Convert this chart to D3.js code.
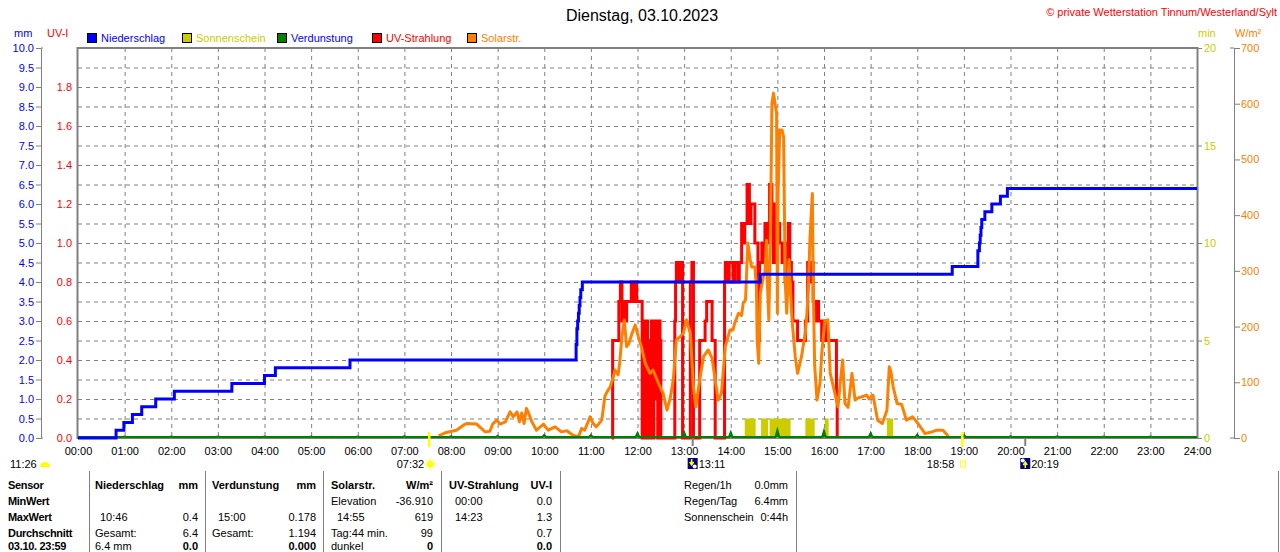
<!DOCTYPE html>
<html>
<head>
<meta charset="utf-8">
<script src="https://cdn.jsdelivr.net/npm/d3@7"></script>
<style>
  body { margin: 0; background: #fff; }
  svg { display: block; font-family: "Liberation Sans", Arial, sans-serif; font-size: 11px; }
</style>
</head>
<body>
<svg width="1280" height="552"></svg>
<script>
// ---- data ----
const hourTicks = d3.range(0, 25);
const mmTicks = d3.range(0, 10.01, 0.5);
const uvTicks = [0, 0.2, 0.4, 0.6, 0.8, 1.0, 1.2, 1.4, 1.6, 1.8];
const sunTicks = [0, 5, 10, 15, 20];
const solarTicks = [0, 100, 200, 300, 400, 500, 600, 700];

// cumulative rain (mm), step after
const rainSteps = [
  ["00:00", 0], ["00:49", 0.2], ["00:59", 0.4], ["01:10", 0.6], ["01:22", 0.8], ["01:40", 1.0],
  ["02:04", 1.2], ["03:18", 1.4], ["04:00", 1.6], ["04:14", 1.8], ["05:50", 2.0],
  ["10:41", 2.4], ["10:42", 2.8], ["10:43", 3.0], ["10:44", 3.2], ["10:45", 3.4], ["10:46", 3.6],
  ["10:47", 3.8], ["10:49", 4.0], ["14:38", 4.2], ["18:45", 4.4], ["19:18", 4.8], ["19:20", 5.0],
  ["19:21", 5.2], ["19:22", 5.4], ["19:23", 5.6], ["19:27", 5.8], ["19:36", 6.0], ["19:47", 6.2],
  ["19:56", 6.4], ["24:00", 6.4]
];

// UV index, step after
const uvReadings = [
  ["11:27", 0], ["11:28", 0.5], ["11:36", 0.7], ["11:38", 0.8], ["11:40", 0.6], ["11:42", 0.7],
  ["11:44", 0.6], ["11:46", 0.7], ["11:52", 0.8], ["11:54", 0.7], ["11:56", 0.8], ["11:59", 0.7],
  ["12:06", 0], ["12:07", 0.4], ["12:08", 0], ["12:09", 0.6], ["12:11", 0], ["12:12", 0.6],
  ["12:13", 0.4], ["12:14", 0], ["12:15", 0.5], ["12:16", 0], ["12:17", 0.4], ["12:18", 0.6],
  ["12:20", 0], ["12:21", 0.6], ["12:23", 0.2], ["12:24", 0.6], ["12:26", 0], ["12:27", 0.6],
  ["12:29", 0.5], ["12:30", 0], ["12:48", 0.6], ["12:49", 0.8], ["12:50", 0.9], ["12:53", 0.8],
  ["12:55", 0.9], ["12:58", 0], ["13:08", 0.8], ["13:10", 0.9], ["13:12", 0], ["13:20", 0.5],
  ["13:27", 0.6], ["13:29", 0.7], ["13:36", 0.5], ["13:40", 0], ["13:52", 0.8], ["13:53", 0.9],
  ["13:56", 0.8], ["13:58", 0.9], ["14:03", 0.8], ["14:05", 0.9], ["14:09", 0.8], ["14:11", 0.9],
  ["14:14", 1.1], ["14:16", 1.0], ["14:18", 1.1], ["14:21", 1.3], ["14:24", 1.1], ["14:26", 1.2],
  ["14:28", 1.2], ["14:31", 1.0], ["14:35", 0.5], ["14:37", 0.9], ["14:40", 1.0], ["14:42", 0.9],
  ["14:44", 1.1], ["14:47", 1.0], ["14:50", 1.3], ["14:53", 1.2], ["14:55", 0.9], ["14:57", 1.2],
  ["15:00", 1.1], ["15:03", 1.0], ["15:06", 0.9], ["15:08", 1.0], ["15:10", 0.8], ["15:14", 1.1],
  ["15:16", 0.9], ["15:18", 0.8], ["15:20", 0.6], ["15:26", 0.5], ["15:36", 0.6], ["15:39", 0.9],
  ["15:42", 0.8], ["15:44", 0.9], ["15:46", 0.7], ["15:48", 0.6], ["15:51", 0.7], ["15:53", 0.6],
  ["15:57", 0.5], ["15:59", 0.6], ["16:03", 0.5], ["16:16", 0.2], ["16:17", 0]
];

// solar radiation W/m²
const solarReadings = [
  ["07:44", 4], ["07:54", 10], ["08:07", 14], ["08:16", 23], ["08:20", 26], ["08:33", 25],
  ["08:44", 11], ["08:50", 12], ["08:54", 26], ["08:59", 32], ["09:03", 25], ["09:10", 29],
  ["09:16", 47], ["09:20", 38], ["09:25", 47], ["09:28", 29], ["09:31", 45], ["09:34", 26],
  ["09:37", 53], ["09:40", 44], ["09:44", 29], ["09:50", 14], ["09:59", 25], ["10:05", 14],
  ["10:14", 20], ["10:22", 11], ["10:29", 13], ["10:37", 5], ["10:44", 2], ["10:48", 17],
  ["10:52", 14], ["10:59", 38], ["11:03", 26], ["11:07", 20], ["11:14", 32], ["11:18", 75],
  ["11:22", 86], ["11:25", 92], ["11:29", 110], ["11:31", 122], ["11:35", 113], ["11:37", 134],
  ["11:40", 182], ["11:43", 212], ["11:46", 164], ["11:49", 170], ["11:53", 188], ["11:57", 203],
  ["12:01", 182], ["12:05", 164], ["12:10", 134], ["12:16", 116], ["12:20", 122], ["12:27", 98],
  ["12:33", 80], ["12:38", 50], ["12:42", 71], ["12:46", 104], ["12:50", 176], ["12:55", 182],
  ["12:59", 188], ["13:03", 212], ["13:08", 188], ["13:12", 92], ["13:15", 56], ["13:20", 104],
  ["13:25", 146], ["13:31", 158], ["13:36", 143], ["13:40", 104], ["13:44", 68], ["13:48", 80],
  ["13:53", 164], ["13:59", 194], ["14:03", 194], ["14:05", 206], ["14:10", 224], ["14:14", 220],
  ["14:16", 242], ["14:19", 248], ["14:22", 350], ["14:25", 320], ["14:27", 307], ["14:31", 307],
  ["14:33", 272], ["14:34", 176], ["14:36", 134], ["14:38", 260], ["14:42", 290], ["14:44", 296],
  ["14:46", 355], ["14:47", 284], ["14:49", 212], ["14:51", 355], ["14:53", 600], ["14:55", 619],
  ["14:57", 600], ["14:59", 583], ["15:00", 224], ["15:01", 440], ["15:03", 553], ["15:06", 553],
  ["15:08", 540], ["15:10", 284], ["15:12", 224], ["15:15", 320], ["15:17", 260], ["15:19", 210],
  ["15:23", 146], ["15:26", 116], ["15:31", 146], ["15:36", 190], ["15:38", 224], ["15:40", 272],
  ["15:42", 360], ["15:45", 439], ["15:46", 284], ["15:48", 130], ["15:51", 68], ["15:55", 100],
  ["15:57", 150], ["16:01", 210], ["16:05", 212], ["16:08", 116], ["16:12", 92], ["16:15", 74],
  ["16:18", 56], ["16:21", 100], ["16:24", 140], ["16:27", 62], ["16:31", 55], ["16:36", 116],
  ["16:40", 68], ["16:44", 72], ["16:49", 74], ["16:55", 77], ["16:58", 70], ["17:03", 77],
  ["17:09", 32], ["17:15", 26], ["17:21", 50], ["17:24", 128], ["17:26", 120], ["17:29", 92],
  ["17:34", 62], ["17:40", 60], ["17:46", 32], ["17:54", 38], ["18:01", 26], ["18:10", 8],
  ["18:19", 11], ["18:25", 14], ["18:33", 14], ["18:39", 5], ["18:40", 0]
];

// sunshine minutes: [from, to, min]
const sunshineSlots = [
  ["14:18", "14:32", 1], ["14:39", "14:48", 1], ["14:50", "15:17", 1],
  ["15:36", "15:48", 1], ["16:01", "16:06", 1], ["17:21", "17:29", 1]
];

// evaporation per hour (mm), hours 0..24
const evapHourly = [0, 0.01, 0.01, 0.01, 0.01, 0.01, 0.01, 0.02, 0.02, 0.03, 0.05, 0.05, 0.1,
  0.12, 0.12, 0.178, 0.16, 0.1, 0.06, 0.05, 0.02, 0.02, 0.01, 0.01, 0];

const legendItems = [
  { name: "Niederschlag", box: "#0000ff", text: "#0000ff" },
  { name: "Sonnenschein", box: "#cccc00", text: "#cccc00" },
  { name: "Verdunstung", box: "#008000", text: "#0000ff" },
  { name: "UV-Strahlung", box: "#ff0000", text: "#ff0000" },
  { name: "Solarstr.", box: "#ff8000", text: "#ff8000" }
];

const tableRows = [
  ["Sensor", "Niederschlag", "", "mm", "Verdunstung", "", "mm", "Solarstr.", "", "W/m²", "UV-Strahlung", "", "UV-I"],
  ["MinWert", "", "", "", "", "", "", "Elevation", "", "-36.910", "", "00:00", "0.0"],
  ["MaxWert", "", "10:46", "0.4", "", "15:00", "0.178", "", "14:55", "619", "", "14:23", "1.3"],
  ["Durchschnitt", "Gesamt:", "", "6.4", "Gesamt:", "", "1.194", "Tag:44 min.", "", "99", "", "", "0.7"],
  ["03.10. 23:59", "6.4 mm", "", "0.0", "", "", "0.000", "dunkel", "", "0", "", "", "0.0"]
];
const rainInfo = [["Regen/1h", "0.0mm"], ["Regen/Tag", "6.4mm"], ["Sonnenschein", "0:44h"]];

// ---- helpers ----
const toHours = (s) => {
  const [h, m] = s.split(":").map(Number);
  return h + m / 60;
};

const svg = d3.select("svg");
const plotLeft = 78, plotRight = 1197, plotTop = 48, plotBottom = 438;
const grey = "#808080";

const x = d3.scaleLinear().domain([0, 24]).range([plotLeft, plotRight]);
const yMm = d3.scaleLinear().domain([0, 10]).range([plotBottom, plotTop]);
const yUv = d3.scaleLinear().domain([0, 2]).range([plotBottom, plotTop]);
const ySun = d3.scaleLinear().domain([0, 20]).range([plotBottom, plotTop]);
const ySolar = d3.scaleLinear().domain([0, 700]).range([plotBottom, plotTop]);

svg.append("rect").attr("width", 1280).attr("height", 552).attr("fill", "#fff");

// title + copyright
svg.append("text").attr("x", 642).attr("y", 21).attr("text-anchor", "middle")
  .style("font-size", "16px").text("Dienstag, 03.10.2023");
svg.append("text").attr("x", 1277).attr("y", 16).attr("text-anchor", "end")
  .attr("fill", "#ff0000").text("© private Wetterstation Tinnum/Westerland/Sylt");

// axis unit labels
svg.append("text").attr("x", 14).attr("y", 37).attr("fill", "#0000ff").text("mm");
svg.append("text").attr("x", 47).attr("y", 37).attr("fill", "#ff0000").text("UV-I");
svg.append("text").attr("x", 1198).attr("y", 37).attr("fill", "#cccc00").text("min");
svg.append("text").attr("x", 1235).attr("y", 37).attr("fill", "#ff8000").text("W/m²");

// legend
const legend = svg.append("g").attr("class", "legend")
  .selectAll("g").data(legendItems).enter().append("g")
  .attr("transform", (d, i) => `translate(${87 + i * 95},33)`);
legend.append("rect").attr("x", 0.5).attr("y", 0.5).attr("width", 9).attr("height", 9)
  .attr("fill", (d) => d.box).attr("stroke", "#000");
legend.append("text").attr("x", 14).attr("y", 9).attr("fill", (d) => d.text).text((d) => d.name);

// grid
const grid = svg.append("g").attr("stroke", grey).attr("stroke-dasharray", "4,4");
grid.selectAll("line.h").data(mmTicks.filter((v) => v > 0 && v < 10)).enter().append("line")
  .attr("class", "h").attr("x1", plotLeft).attr("x2", plotRight)
  .attr("y1", (d) => yMm(d) + 0.5).attr("y2", (d) => yMm(d) + 0.5);
grid.selectAll("line.v").data(hourTicks.filter((h) => h > 0 && h < 24)).enter().append("line")
  .attr("class", "v").attr("y1", plotTop).attr("y2", plotBottom)
  .attr("x1", (d) => x(d) + 0.5).attr("x2", (d) => x(d) + 0.5);

// frame
svg.append("rect").attr("x", plotLeft - 0.5).attr("y", plotTop).attr("width", plotRight - plotLeft + 1)
  .attr("height", plotBottom - plotTop).attr("fill", "none").attr("stroke", grey).attr("stroke-width", 2);

// left mm axis
const mmAxis = svg.append("g").attr("transform", "translate(41,0)")
  .call(d3.axisLeft(yMm).tickValues(mmTicks).tickFormat(d3.format(".1f")).tickSize(5).tickSizeOuter(0).tickPadding(2));
mmAxis.selectAll("line, path").attr("stroke", grey);
mmAxis.selectAll("text").attr("fill", "#0000ff").style("font-size", "11px").style("font-family", "inherit");
mmAxis.append("g").selectAll("line").data([0, 10]).enter().append("line")
  .attr("x1", 0).attr("x2", 2).attr("y1", (d) => yMm(d)).attr("y2", (d) => yMm(d)).attr("stroke", grey);

// UV axis labels
const uvAxis = svg.append("g").attr("transform", "translate(73,0)")
  .call(d3.axisLeft(yUv).tickValues(uvTicks).tickFormat(d3.format(".1f")).tickSize(0).tickPadding(1));
uvAxis.select(".domain").remove();
uvAxis.selectAll("text").attr("fill", "#ff0000").style("font-size", "11px").style("font-family", "inherit");

// sunshine minutes axis
const sunAxis = svg.append("g").attr("transform", `translate(${plotRight},0)`)
  .call(d3.axisRight(ySun).tickValues(sunTicks).tickSize(5).tickPadding(2));
sunAxis.select(".domain").remove();
sunAxis.selectAll("line").attr("stroke", grey);
sunAxis.selectAll("text").attr("fill", "#cccc00").style("font-size", "11px").style("font-family", "inherit");

// solar axis
const solarAxis = svg.append("g").attr("transform", "translate(1234,0)")
  .call(d3.axisRight(ySolar).tickValues(solarTicks).tickSize(6).tickSizeOuter(0).tickPadding(1));
solarAxis.selectAll("line, path").attr("stroke", grey);
solarAxis.selectAll("text").attr("fill", "#ff8000").style("font-size", "11px").style("font-family", "inherit");
solarAxis.append("g").selectAll("line").data([0, 700]).enter().append("line")
  .attr("x1", -4).attr("x2", 0).attr("y1", (d) => ySolar(d)).attr("y2", (d) => ySolar(d)).attr("stroke", grey);

// x axis labels
const xAxis = svg.append("g").attr("transform", `translate(0,${plotBottom})`)
  .call(d3.axisBottom(x).tickValues(hourTicks)
    .tickFormat((h) => String(h).padStart(2, "0") + ":00").tickSize(0).tickPadding(9));
xAxis.select(".domain").remove();
xAxis.selectAll("text").attr("fill", "#000").style("font-size", "11px").style("font-family", "inherit");

// sunshine bars
svg.append("g").selectAll("rect").data(sunshineSlots).enter().append("rect")
  .attr("x", (d) => x(toHours(d[0])))
  .attr("width", (d) => x(toHours(d[1])) - x(toHours(d[0])))
  .attr("y", (d) => ySun(d[2]))
  .attr("height", (d) => ySun(0) - ySun(d[2]))
  .attr("fill", "#cccc00");

// UV line
const uvLine = d3.line().curve(d3.curveStepAfter)
  .x((d) => x(toHours(d[0]))).y((d) => yUv(d[1]));
svg.append("path").datum(uvReadings).attr("d", uvLine)
  .attr("fill", "none").attr("stroke", "#ff0000").attr("stroke-width", 3);

// solar line
const solarLine = d3.line().x((d) => x(toHours(d[0]))).y((d) => ySolar(d[1]));
svg.append("path").datum(solarReadings).attr("d", solarLine)
  .attr("fill", "none").attr("stroke", "#ff8000").attr("stroke-width", 3).attr("stroke-linejoin", "round");

// evaporation: baseline with hourly spikes
const evapPoints = [];
evapHourly.forEach((v, h) => {
  if (h > 0) evapPoints.push([h - 0.04, 0]);
  evapPoints.push([h, v]);
  if (h < 24) evapPoints.push([h + 0.04, 0]);
});
svg.append("path").datum(evapPoints)
  .attr("d", d3.line().x((d) => x(d[0])).y((d) => yMm(d[1]) - 1))
  .attr("fill", "#008000").attr("stroke", "#008000").attr("stroke-width", 2);

// rain line
const rainLine = d3.line().curve(d3.curveStepAfter)
  .x((d) => x(toHours(d[0]))).y((d) => yMm(d[1]));
svg.append("path").datum(rainSteps).attr("d", rainLine)
  .attr("fill", "none").attr("stroke", "#0000ff").attr("stroke-width", 3);

// sunrise / sunset / moon marks
const sunrise = toHours("07:32"), sunset = toHours("18:58");
const moonset = toHours("13:11"), moonrise = toHours("20:19");
svg.selectAll("line.sunmark").data([sunrise, sunset]).enter().append("line")
  .attr("x1", (d) => x(d)).attr("x2", (d) => x(d)).attr("y1", 432).attr("y2", 447)
  .attr("stroke", "#ffff00").attr("stroke-width", 2.5);
svg.selectAll("line.moonmark").data([moonset, moonrise]).enter().append("line")
  .attr("x1", (d) => x(d)).attr("x2", (d) => x(d)).attr("y1", 438).attr("y2", 446)
  .attr("stroke", grey).attr("stroke-width", 2);

// labels under axis
svg.append("text").attr("x", 10).attr("y", 468).text("11:26");
svg.append("path").attr("d", "M40,467 A5,5 0 0 1 50,467 Z").attr("fill", "#ffff00");
svg.append("text").attr("x", x(sunrise) - 5).attr("y", 468).attr("text-anchor", "end").text("07:32");
const sunIcon = svg.append("g").attr("transform", `translate(${x(sunrise) + 1},464)`);
sunIcon.append("circle").attr("r", 3.5).attr("fill", "#ffff00");
sunIcon.selectAll("line").data(d3.range(8)).enter().append("line")
  .attr("x1", (d) => 4.5 * Math.cos(d * Math.PI / 4)).attr("y1", (d) => 4.5 * Math.sin(d * Math.PI / 4))
  .attr("x2", (d) => 6.5 * Math.cos(d * Math.PI / 4)).attr("y2", (d) => 6.5 * Math.sin(d * Math.PI / 4))
  .attr("stroke", "#ffff00").attr("stroke-width", 1);
svg.append("text").attr("x", x(sunset) - 8).attr("y", 468).attr("text-anchor", "end").text("18:58");
svg.append("rect").attr("x", x(sunset) - 2).attr("y", 461).attr("width", 5).attr("height", 6)
  .attr("fill", "none").attr("stroke", "#ffff00");

[[moonset, "13:11", 1], [moonrise, "20:19", -1]].forEach(([t, label, dir]) => {
  const g = svg.append("g").attr("transform", `translate(${x(t) - 5},458)`);
  g.append("rect").attr("width", 10).attr("height", 11).attr("fill", "#000080");
  g.append("circle").attr("cx", dir > 0 ? 7 : 2.5).attr("cy", dir > 0 ? 8.5 : 2.5).attr("r", 2).attr("fill", "#fff");
  g.append("path")
    .attr("d", dir > 0 ? "M4,1 L4,6 M2,4 L4,7 L6,4" : "M5,10 L5,5 M3,7 L5,4 L7,7")
    .attr("stroke", "#ffff00").attr("stroke-width", 1.5).attr("fill", "none");
  svg.append("text").attr("x", x(t) + 6).attr("y", 468).text(label);
});

// info table
const sepX = [89, 205, 323, 441, 560, 796, 1278];
svg.append("g").selectAll("line").data(sepX).enter().append("line")
  .attr("x1", (d) => d + 0.5).attr("x2", (d) => d + 0.5).attr("y1", 471).attr("y2", 552)
  .attr("stroke", grey);

const colX = [
  { x: 8, anchor: "start" },
  { x: 95, anchor: "start" }, { x: 100, anchor: "start" }, { x: 198, anchor: "end" },
  { x: 212, anchor: "start" }, { x: 218, anchor: "start" }, { x: 316, anchor: "end" },
  { x: 331, anchor: "start" }, { x: 337, anchor: "start" }, { x: 433, anchor: "end" },
  { x: 449, anchor: "start" }, { x: 455, anchor: "start" }, { x: 552, anchor: "end" }
];
const rowY = [489, 505, 521, 537, 550];
tableRows.forEach((row, r) => {
  row.forEach((cell, c) => {
    if (!cell) return;
    const bold = r === 0 || c === 0 || (r === 4 && [3, 6, 9, 12].includes(c));
    svg.append("text").attr("x", colX[c].x).attr("y", rowY[r])
      .attr("text-anchor", colX[c].anchor)
      .style("font-weight", bold ? "bold" : "normal")
      .style("letter-spacing", c === 0 ? "-0.3px" : null)
      .text(cell);
  });
});
rainInfo.forEach(([label, val], r) => {
  svg.append("text").attr("x", 684).attr("y", rowY[r]).text(label);
  svg.append("text").attr("x", 788).attr("y", rowY[r]).attr("text-anchor", "end").text(val);
});
</script>
</body>
</html>
